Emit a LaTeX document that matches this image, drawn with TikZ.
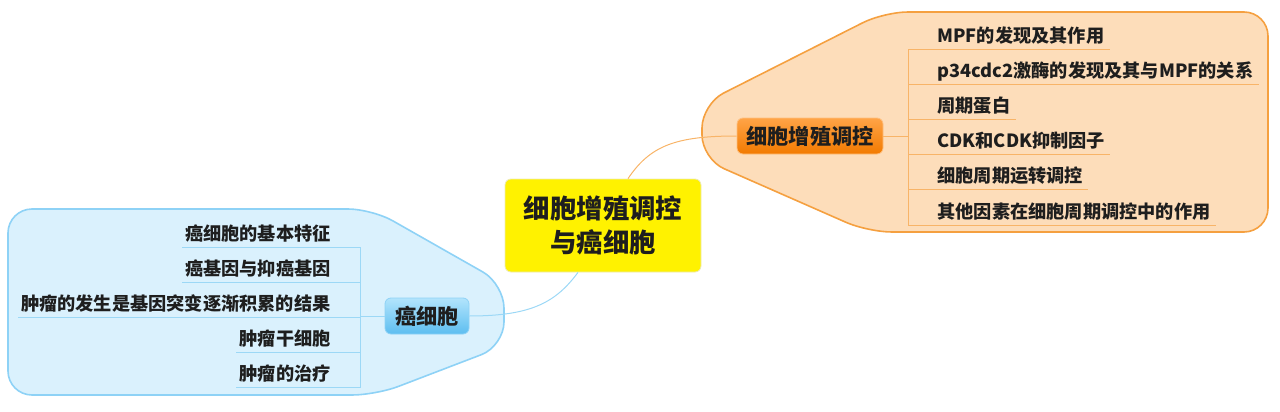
\documentclass[tikz,border=0pt]{standalone}
\usepackage{fontspec}
\setmainfont{Noto Sans CJK SC}
\usepackage{xcolor}
\usepackage{tikz}
\usetikzlibrary{positioning}

\definecolor{peach}{HTML}{FDDDBA}
\definecolor{peachedge}{HTML}{F5A040}
\definecolor{orangeline}{HTML}{F8B468}
\definecolor{orangetop}{HTML}{FFA447}
\definecolor{orangebot}{HTML}{F27A00}
\definecolor{skyfill}{HTML}{DAF1FD}
\definecolor{skyedge}{HTML}{8ED2F6}
\definecolor{skyline}{HTML}{9CD8F6}
\definecolor{skytop}{HTML}{B2E4FC}
\definecolor{skybot}{HTML}{5DBEF0}
\definecolor{inktext}{HTML}{1E1E1E}

\begin{document}
\begin{tikzpicture}[
    x=0.5pt, y=-0.5pt,
    every node/.style={font=\bfseries, text=inktext},
    rootnode/.style={rectangle, rounded corners=3pt, draw=yellow!60!gray!40, fill=yellow, minimum width=98pt, minimum height=46.5pt, align=center, font=\fontsize{13.2}{17}\bfseries},
    mainnode/.style={rectangle, rounded corners=3pt, minimum height=18pt, inner xsep=0pt, align=center, font=\fontsize{10.6}{12}\bfseries},
    subnode/.style={rectangle, inner xsep=0pt, inner ysep=2pt, text height=11.9pt, text depth=1.3pt, font=\fontsize{9.1}{11}\bfseries},
    rline/.style={draw=orangeline, line width=0.5pt},
    lline/.style={draw=skyline, line width=0.5pt},
]
\useasboundingbox (0,0) rectangle (1280,412);

% Boundaries
\draw[fill=peach, draw=peachedge, line width=0.8pt, rounded corners=12pt]
    (1000,12) -- (1268,12) -- (1268,232) -- (868,232) -- (702,159) -- (702,104) -- (884,12) -- cycle;
\draw[fill=skyfill, draw=skyedge, line width=0.8pt, rounded corners=12pt]
    (200,209) -- (372,209) -- (504,284) -- (504,346) -- (376,395) -- (8,395) -- (8,209) -- cycle;

% Main topics
\node[rootnode] (root) at (603,225.5) {细胞增殖调控\\与癌细胞};
\node[mainnode, top color=orangetop, bottom color=orangebot, draw=orangetop!70!white, minimum width=73pt] (grow) at (810,136) {细胞增殖调控};
\node[mainnode, top color=skytop, bottom color=skybot, draw=skyedge, minimum width=42pt] (cancer) at (427,316) {癌细胞};

% Right subtopics
\coordinate (rspine) at (908,136);
\node[subnode, anchor=south west] (r1) at (937,49) {MPF的发现及其作用};
\node[subnode, below=0pt of r1.south west, anchor=north west] (r2) {p34cdc2激酶的发现及其与MPF的关系};
\node[subnode, below=0pt of r2.south west, anchor=north west] (r3) {周期蛋白};
\node[subnode, below=0pt of r3.south west, anchor=north west] (r4) {CDK和CDK抑制因子};
\node[subnode, below=0pt of r4.south west, anchor=north west] (r5) {细胞周期运转调控};
\node[subnode, below=0pt of r5.south west, anchor=north west] (r6) {其他因素在细胞周期调控中的作用};

% Left subtopics
\coordinate (lspine) at (360,316);
\node[subnode, anchor=south east] (l1) at (331,247) {癌细胞的基本特征};
\node[subnode, below=0pt of l1.south east, anchor=north east] (l2) {癌基因与抑癌基因};
\node[subnode, below=0pt of l2.south east, anchor=north east] (l3) {肿瘤的发生是基因突变逐渐积累的结果};
\node[subnode, below=0pt of l3.south east, anchor=north east] (l4) {肿瘤干细胞};
\node[subnode, below=0pt of l4.south east, anchor=north east] (l5) {肿瘤的治疗};

% Connectors
\draw[rline] (root.north -| 628,0) .. controls (650,146) and (675,136) .. (grow.west);
\draw[lline] (root.south -| 578,0) .. controls (556,302) and (532,316) .. (cancer.east);

\draw[rline] (grow.east) -- (rspine);
\draw[rline] (r1.south -| rspine) -- (r6.south -| rspine);
\draw[rline] (r1.south -| rspine) -- ([xshift=2.5pt]r1.south east);
\draw[rline] (r2.south -| rspine) -- ([xshift=2.5pt]r2.south east);
\draw[rline] (r3.south -| rspine) -- ([xshift=2.5pt]r3.south east);
\draw[rline] (r4.south -| rspine) -- ([xshift=2.5pt]r4.south east);
\draw[rline] (r5.south -| rspine) -- ([xshift=2.5pt]r5.south east);
\draw[rline] (r6.south -| rspine) -- ([xshift=2.5pt]r6.south east);

\draw[lline] (lspine) -- (cancer.west);
\draw[lline] (l1.south -| lspine) -- (l5.south -| lspine);
\draw[lline] (l1.south -| lspine) -- ([xshift=-1.5pt]l1.south west);
\draw[lline] (l2.south -| lspine) -- ([xshift=-1.5pt]l2.south west);
\draw[lline] (l3.south -| lspine) -- ([xshift=-1.5pt]l3.south west);
\draw[lline] (l4.south -| lspine) -- ([xshift=-1.5pt]l4.south west);
\draw[lline] (l5.south -| lspine) -- ([xshift=-1.5pt]l5.south west);

\end{tikzpicture}
\end{document}
